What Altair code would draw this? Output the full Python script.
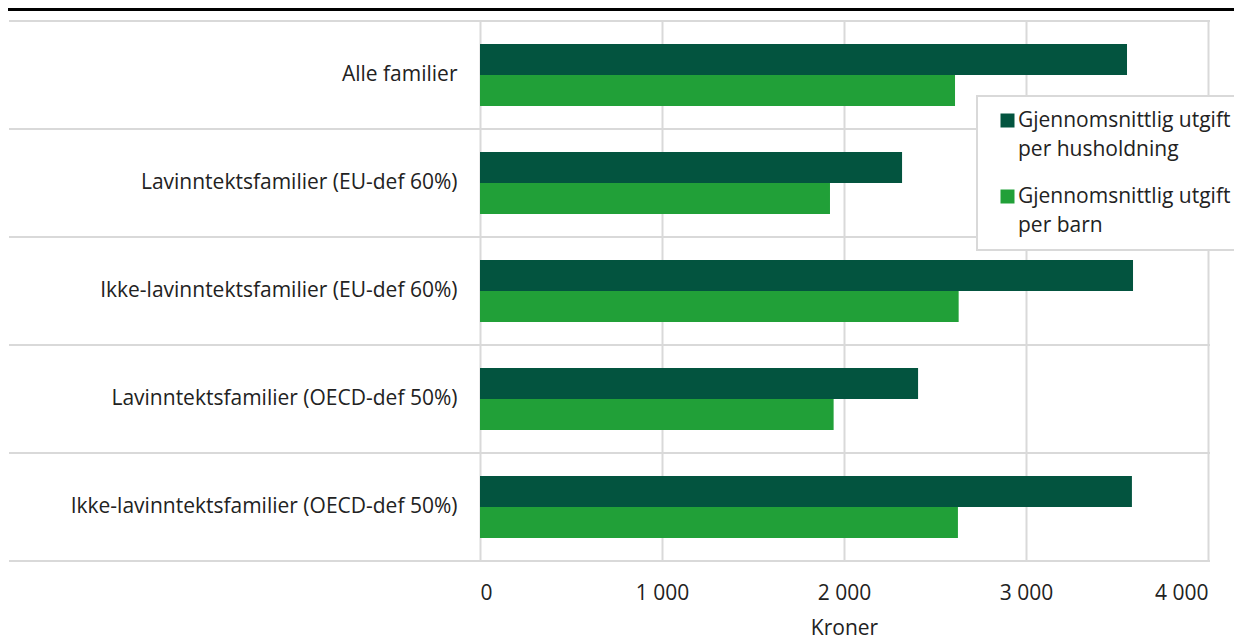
import altair as alt
import pandas as pd

categories = [
    "Alle familier",
    "Lavinntektsfamilier (EU-def 60%)",
    "Ikke-lavinntektsfamilier (EU-def 60%)",
    "Lavinntektsfamilier (OECD-def 50%)",
    "Ikke-lavinntektsfamilier (OECD-def 50%)",
]
series = ["Gjennomsnittlig utgift per husholdning", "Gjennomsnittlig utgift per barn"]
per_household = [3555, 2319, 3588, 2407, 3582]
per_child = [2610, 1923, 2630, 1943, 2626]
colors = ["#03543f", "#21a038"]
x_ticks = [0, 1000, 2000, 3000, 4000]

rows = []
for c, h, b in zip(categories, per_household, per_child):
    rows.append({"kategori": c, "serie": series[0], "verdi": h})
    rows.append({"kategori": c, "serie": series[1], "verdi": b})
df = pd.DataFrame(rows)
cat_df = pd.DataFrame({"kategori": categories})
last_df = pd.DataFrame({"kategori": categories[-1:]})

FONT = "Open Sans"
GRID = "#d9d9d9"
FS = 21
LH = 29

y_scale = alt.Scale(domain=categories, paddingInner=0, paddingOuter=0)

bars = alt.Chart(df).mark_bar().encode(
    x=alt.X(
        "verdi:Q",
        scale=alt.Scale(domain=[0, 4000], nice=False),
        axis=alt.Axis(
            values=x_ticks,
            title="Kroner",
            grid=True,
            gridColor=GRID,
            gridWidth=2,
            ticks=False,
            domain=False,
            labelPadding=21,
            titlePadding=14,
            labelExpr="replace(format(datum.value, ','), ',', ' ')",
        ),
    ),
    y=alt.Y(
        "kategori:N",
        sort=categories,
        scale=y_scale,
        axis=alt.Axis(title=None, ticks=False, domain=False, grid=False, labelPadding=23, labelLimit=500),
    ),
    yOffset=alt.YOffset(
        "serie:N", sort=series, scale=alt.Scale(domain=series, paddingInner=0, paddingOuter=0.742)
    ),
    color=alt.Color(
        "serie:N",
        sort=series,
        scale=alt.Scale(domain=series, range=colors),
        legend=alt.Legend(
            title=None,
            orient="none",
            legendX=497,
            legendY=75,
            symbolType="square",
            symbolSize=196,
            symbolStrokeWidth=0,
            symbolOffset=6,
            labelOffset=0,
            labelLimit=400,
            labelFontSize=FS,
            labelFont=FONT,
            labelColor="#222222",
            padding=14,
            rowPadding=25,
            strokeColor=GRID,
            fillColor="white",
            labelExpr="split(replace(datum.label, ' per ', '|per '), '|')",
        ),
    ),
)

sep = alt.Chart(cat_df).mark_rule(color=GRID, strokeWidth=2).encode(
    y=alt.Y("kategori:N", sort=categories, scale=y_scale, bandPosition=0),
    x=alt.value(-471),
    x2=alt.value(730),
)
sep_last = alt.Chart(last_df).mark_rule(color=GRID, strokeWidth=2).encode(
    y=alt.Y("kategori:N", sort=categories, scale=y_scale, bandPosition=1),
    x=alt.value(-471),
    x2=alt.value(730),
)
topline = alt.Chart(last_df).mark_rule(color="black", strokeWidth=3).encode(
    y=alt.value(-11.5),
    x=alt.value(-472),
    x2=alt.value(760),
)

chart = (
    alt.layer(sep, sep_last, bars, topline)
    .properties(
        width=728,
        height=540,
        autosize=alt.AutoSizeParams(type="none"),
        padding={"left": 472, "top": 13, "right": 26, "bottom": 80},
    )
    .configure(style={"guide-label": {"lineHeight": LH}})
    .configure_view(stroke=None)
    .configure_legend(strokeWidth=2)
    .configure_axis(
        labelFont=FONT,
        titleFont=FONT,
        labelFontSize=FS,
        titleFontSize=FS,
        labelColor="#222222",
        titleColor="#222222",
        titleFontWeight="normal",
    )
)

chart.save("out.html", embed_options={"renderer": "svg", "actions": False})
